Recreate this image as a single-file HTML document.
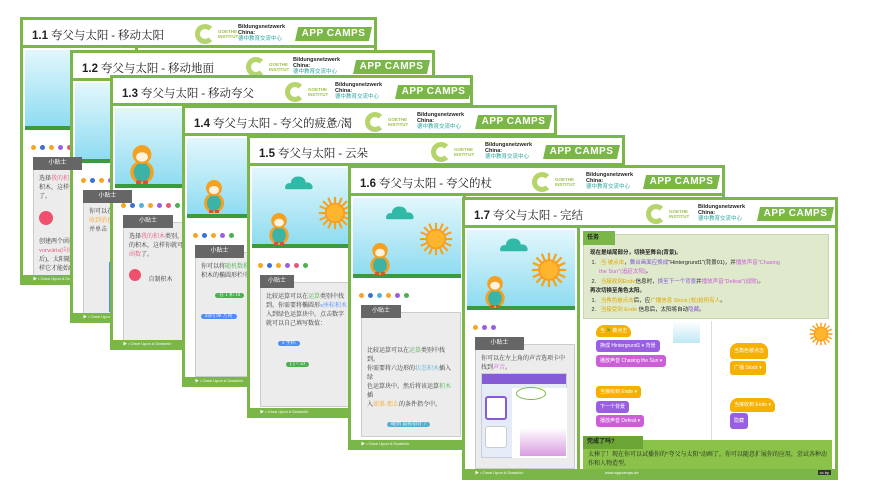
<!DOCTYPE html>
<html><head><meta charset="utf-8">
<style>
*{margin:0;padding:0;box-sizing:border-box}
body{width:872px;height:490px;background:#fff;position:relative;overflow:hidden;font-family:"Liberation Sans","Noto Sans CJK SC",sans-serif}
.s{position:absolute;background:#fff;border:3px solid #7ab648;overflow:hidden}
.h{position:absolute;left:0;top:0;right:0;height:28px;border-bottom:3px solid #7ab648;background:#fff}
.t{position:absolute;left:9px;top:7px;font-size:11.5px;color:#222;font-family:"Liberation Serif","Noto Serif CJK SC",serif;white-space:nowrap}
.t b{font-family:"Liberation Sans",sans-serif}
.gc{position:absolute;top:4px;width:20px;height:20px;border-radius:50%;border:5px solid #b5d56a;border-right-color:transparent}
.gt{position:absolute;top:9px;font-size:4.5px;color:#9cc04a;line-height:5px;font-weight:bold}
.bn{position:absolute;top:4px;font-size:5.5px;line-height:6px;font-weight:bold;color:#222}
.bn i{font-style:normal;color:#2aa59a;font-weight:normal}
.ac{position:absolute;top:7px;width:77px;height:14px;background:#7ab648;color:#fff;font-size:10px;line-height:14px;text-align:center;font-weight:bold;letter-spacing:.5px;clip-path:polygon(4% 0,100% 0,96% 100%,0 100%)}
.lc{position:absolute;left:0;top:28px;width:115px;bottom:7px;border-right:3px solid #7ab648}
.sky{position:absolute;left:2px;top:2px;width:108px;height:80px;background:linear-gradient(#e2f7fc,#8fdcf1);border-bottom:4px solid #3c9a3e}
.dots{position:absolute;left:8px;top:89px;height:6px}
.dots span{display:inline-block;width:5px;height:5px;border-radius:50%;margin-right:4px}
.tl{position:absolute;left:10px;top:109px;width:49px;height:13px;background:#666;color:#fff;font-size:6px;line-height:13px;text-align:center;z-index:2}
.tb{position:absolute;left:10px;top:116px;width:100px;height:125px;background:#ececec;border:1px solid #ccc;padding:10px 5px;font-size:6px;line-height:9px;color:#333;font-family:"Liberation Serif","Noto Serif CJK SC",serif}
.ft{position:absolute;left:0;right:0;bottom:0;height:7px;background:#7ab648;color:#fff;font-size:4px;line-height:7px;padding-left:10px}
.blk{position:absolute;font-size:5px;color:#fff;line-height:12px;padding:0 4px;border-radius:3px;white-space:nowrap}
.y{background:#f5b000}.p{background:#9a5fe0}.m{background:#cc5fd8}
</style></head><body>
<svg width="0" height="0" style="position:absolute">
<defs>
<symbol id="sun" viewBox="0 0 40 40"><g stroke="#f7a31a" stroke-width="2.5"><line x1="20" y1="1" x2="20" y2="39"/><line x1="1" y1="20" x2="39" y2="20"/><line x1="6" y1="6" x2="34" y2="34"/><line x1="34" y1="6" x2="6" y2="34"/><line x1="12" y1="2" x2="28" y2="38"/><line x1="2" y1="12" x2="38" y2="28"/><line x1="28" y1="2" x2="12" y2="38"/><line x1="38" y1="12" x2="2" y2="28"/></g><circle cx="20" cy="20" r="12" fill="#fb9a1e"/><circle cx="20" cy="20" r="10" fill="#ffb52e"/></symbol>
<symbol id="cloud" viewBox="0 0 40 22"><path d="M4 20 Q0 20 2 15 Q4 11 9 12 Q10 3 19 3 Q28 3 29 11 Q36 10 38 16 Q39 20 35 20 Z" fill="#2fb9a6"/></symbol>
<symbol id="tig" viewBox="0 0 22 34"><ellipse cx="11" cy="24" rx="10" ry="10" fill="#f4a021"/><ellipse cx="11" cy="24" rx="7" ry="8" fill="#3bb3a6"/><circle cx="11" cy="9" r="8" fill="#f4a021"/><ellipse cx="11" cy="11" rx="5" ry="4" fill="#fff3e0"/><rect x="6" y="31" width="4" height="3" fill="#e04b3a"/><rect x="12" y="31" width="4" height="3" fill="#e04b3a"/></symbol>
</defs></svg>

<!-- 1.1 -->
<div class="s" style="left:20px;top:17px;width:357px;height:268px">
<div class="h"><div class="t"><b>1.1</b> 夸父与太阳 - 移动太阳</div>
<div class="gc" style="left:172px"></div><div class="gt" style="left:195px">GOETHE<br>INSTITUT</div>
<div class="bn" style="left:215px">Bildungsnetzwerk<br>China:<br><i>德中教育交流中心</i></div>
<div class="ac" style="left:272px">APP CAMPS</div></div>
<div class="lc"><div class="sky"></div>
<div class="dots"><span style="background:#f5a623"></span><span style="background:#3f6fd1"></span><span style="background:#f5a623"></span><span style="background:#9a5fe0"></span><span style="background:#e5587a"></span></div>
<div class="tl">小贴士</div><div class="tb">选择<span style="color:#e5587a">我的积木</span>类别，<br>积木，这样你就<br>了。<br><br><span style="display:inline-block;width:14px;height:14px;border-radius:50%;background:#f0506e"></span><br><br>创建两个函数<br><span style="color:#e5587a">vorwärts(向前)</span><br>后)，太阳随<br>样它才能始终</div></div>
<div class="ft">▶ • Once Upon A Scratch/•</div></div>

<!-- 1.2 -->
<div class="s" style="left:70px;top:50px;width:365px;height:273px">
<div class="h"><div class="t"><b>1.2</b> 夸父与太阳 - 移动地面</div>
<div class="gc" style="left:173px"></div><div class="gt" style="left:196px">GOETHE<br>INSTITUT</div>
<div class="bn" style="left:220px">Bildungsnetzwerk<br>China:<br><i>德中教育交流中心</i></div>
<div class="ac" style="left:280px">APP CAMPS</div></div>
<div class="lc"><div class="sky"></div>
<div class="dots"><span style="background:#f5a623"></span><span style="background:#3f6fd1"></span><span style="background:#f5a623"></span><span style="background:#9a5fe0"></span></div>
<div class="tl">小贴士</div><div class="tb">你可以在<br><span style="color:#f5a623">收到消息</span><br>并单击<br><br><br><br><div style="width:30px;height:50px;background:#4c8df6;margin-left:20px"></div></div></div>
<div class="ft">▶ • Once Upon A Scratch/•</div></div>

<!-- 1.3 -->
<div class="s" style="left:110px;top:75px;width:363px;height:275px">
<div class="h"><div class="t"><b>1.3</b> 夸父与太阳 - 移动夸父</div>
<div class="gc" style="left:172px"></div><div class="gt" style="left:195px">GOETHE<br>INSTITUT</div>
<div class="bn" style="left:222px">Bildungsnetzwerk<br>China:<br><i>德中教育交流中心</i></div>
<div class="ac" style="left:282px">APP CAMPS</div></div>
<div class="lc"><div class="sky"><svg style="position:absolute;left:14px;top:36px" width="26" height="40"><use href="#tig"/></svg></div>
<div class="dots"><span style="background:#f5a623"></span><span style="background:#3f6fd1"></span><span style="background:#55b0d8"></span><span style="background:#f5a623"></span><span style="background:#9a5fe0"></span><span style="background:#e5587a"></span><span style="background:#4caf50"></span></div>
<div class="tl" style="width:50px">小贴士</div><div class="tb">选择<span style="color:#e5587a">我的积木</span>类别，<br>的积木，这样你就可<br><span style="color:#e5587a">函数</span>了。<br><br><span style="display:inline-block;width:12px;height:12px;border-radius:50%;background:#f0506e"></span> &nbsp;&nbsp;&nbsp;&nbsp;自制积木</div></div>
<div class="ft">▶ • Once Upon A Scratch/•</div></div>

<!-- 1.4 -->
<div class="s" style="left:182px;top:105px;width:375px;height:282px">
<div class="h"><div class="t"><b>1.4</b> 夸父与太阳 - 夸父的疲惫/渴</div>
<div class="gc" style="left:180px"></div><div class="gt" style="left:203px">GOETHE<br>INSTITUT</div>
<div class="bn" style="left:232px">Bildungsnetzwerk<br>China:<br><i>德中教育交流中心</i></div>
<div class="ac" style="left:290px">APP CAMPS</div></div>
<div class="lc"><div class="sky"><svg style="position:absolute;left:16px;top:40px" width="22" height="36"><use href="#tig"/></svg></div>
<div class="dots"><span style="background:#f5a623"></span><span style="background:#3f6fd1"></span><span style="background:#f5a623"></span><span style="background:#9a5fe0"></span><span style="background:#4caf50"></span></div>
<div class="tl">小贴士</div><div class="tb">你可以将<span style="color:#4caf50">随机数积木</span><br>积木的椭圆形栏中<br><br><span class="blk" style="position:relative;background:#4caf50;border-radius:6px;margin-left:14px">在 1 和 10</span><br><br><span class="blk" style="position:relative;background:#4c8df6">面向 90 方向</span></div></div>
<div class="ft">▶ • Once Upon A Scratch/•</div></div>

<!-- 1.5 -->
<div class="s" style="left:247px;top:135px;width:378px;height:283px">
<div class="h"><div class="t"><b>1.5</b> 夸父与太阳 - 云朵</div>
<div class="gc" style="left:181px"></div><div class="gt" style="left:204px">GOETHE<br>INSTITUT</div>
<div class="bn" style="left:235px">Bildungsnetzwerk<br>China:<br><i>德中教育交流中心</i></div>
<div class="ac" style="left:293px">APP CAMPS</div></div>
<div class="lc"><div class="sky"><svg style="position:absolute;left:32px;top:6px" width="30" height="17"><use href="#cloud"/></svg><svg style="position:absolute;left:66px;top:28px" width="34" height="34"><use href="#sun"/></svg><svg style="position:absolute;left:16px;top:44px" width="22" height="33"><use href="#tig"/></svg></div>
<div class="dots"><span style="background:#f5a623"></span><span style="background:#3f6fd1"></span><span style="background:#f5a623"></span><span style="background:#9a5fe0"></span><span style="background:#e5587a"></span><span style="background:#4caf50"></span></div>
<div class="tl" style="width:34px">小贴士</div><div class="tb">比较运算可以在<span style="color:#4caf50">运算</span>类别中找<br>到。你需要将椭圆形<span style="color:#4c8df6">x座标积木</span><br>入到绿色运算块中。点击数字<br>就可以自己填写数值：<br><br><span class="blk" style="position:relative;background:#4c8df6;border-radius:6px;margin-left:12px">x 坐标</span><br><br><span class="blk" style="position:relative;background:#4caf50;margin-left:20px">( ) &lt; 50</span></div></div>
<div class="ft">▶ • Once Upon A Scratch/•</div></div>

<!-- 1.6 -->
<div class="s" style="left:348px;top:165px;width:377px;height:285px">
<div class="h"><div class="t"><b>1.6</b> 夸父与太阳 - 夸父的杖</div>
<div class="gc" style="left:181px"></div><div class="gt" style="left:204px">GOETHE<br>INSTITUT</div>
<div class="bn" style="left:235px">Bildungsnetzwerk<br>China:<br><i>德中教育交流中心</i></div>
<div class="ac" style="left:292px">APP CAMPS</div></div>
<div class="lc"><div class="sky"><svg style="position:absolute;left:32px;top:6px" width="30" height="17"><use href="#cloud"/></svg><svg style="position:absolute;left:66px;top:24px" width="34" height="34"><use href="#sun"/></svg><svg style="position:absolute;left:16px;top:44px" width="22" height="33"><use href="#tig"/></svg></div>
<div class="dots"><span style="background:#f5a623"></span><span style="background:#3f6fd1"></span><span style="background:#55b0d8"></span><span style="background:#f5a623"></span><span style="background:#9a5fe0"></span><span style="background:#4caf50"></span></div>
<div class="tl" style="width:40px">小贴士</div><div class="tb" style="padding-top:34px">比较运算可以在<span style="color:#4caf50">运算</span>类别中找到。<br>你需要将六边形的<span style="color:#55b0d8">状态积木</span>插入绿<br>色运算块中。然后将该运算<span style="color:#4caf50">积木</span>插<br>入<span style="color:#f5a623">如果-那么</span>的条件指令中。<br><br><span class="blk" style="position:relative;background:#55b0d8;margin-left:20px">碰到 鼠标指针 ?</span></div></div>
<div class="ft">▶ • Once Upon A Scratch/•</div></div>

<!-- 1.7 -->
<div class="s" style="left:462px;top:197px;width:376px;height:283px">
<div class="h"><div class="t"><b>1.7</b> 夸父与太阳 - 完结</div>
<div class="gc" style="left:181px"></div><div class="gt" style="left:204px">GOETHE<br>INSTITUT</div>
<div class="bn" style="left:233px">Bildungsnetzwerk<br>China:<br><i>德中教育交流中心</i></div>
<div class="ac" style="left:292px">APP CAMPS</div></div>
<div class="lc"><div class="sky"><svg style="position:absolute;left:32px;top:6px" width="30" height="17"><use href="#cloud"/></svg><svg style="position:absolute;left:64px;top:22px" width="36" height="36"><use href="#sun"/></svg><svg style="position:absolute;left:17px;top:45px" width="22" height="33"><use href="#tig"/></svg></div>
<div class="dots"><span style="background:#f5a623"></span><span style="background:#9a5fe0"></span><span style="background:#9a5fe0"></span></div>
<div class="tl">小贴士</div><div class="tb">你可以在左上角的声音选项卡中<br>找到<span style="color:#cc5fd8">声音</span>。
<div style="position:absolute;left:5px;top:28px;width:86px;height:85px;background:#e6ecf7;border:1px solid #ccd">
<div style="height:10px;background:#855cd6"></div>
<div style="position:absolute;left:3px;top:22px;width:22px;height:24px;background:#fff;border:2px solid #855cd6;border-radius:3px"></div>
<div style="position:absolute;left:3px;top:52px;width:22px;height:22px;background:#fff;border:1px solid #ccc;border-radius:3px"></div>
<div style="position:absolute;left:30px;top:14px;width:55px;height:70px;background:#fff"></div>
<div style="position:absolute;left:38px;top:54px;width:46px;height:28px;background:linear-gradient(#fff0,#d99de0)"></div>
<div style="position:absolute;left:34px;top:13px;width:30px;height:13px;border:1.5px solid #7ab648;border-radius:50%"></div>
</div></div></div>
<!-- right -->
<div style="position:absolute;left:118px;top:34px;width:246px;height:85px;background:#dfe9cc;border:1px solid #c8d6b0"></div>
<div style="position:absolute;left:118px;top:31px;width:32px;height:14px;background:#7ab648;color:#222;font-size:6px;font-weight:bold;line-height:14px;padding-left:4px">任务</div>
<div style="position:absolute;left:125px;top:49px;width:238px;font-size:5.5px;line-height:9.5px;color:#222">
<b>现在是结尾部分，切换至舞台(背景)。</b><br>
&nbsp;1.&nbsp;&nbsp;&nbsp;<span style="color:#e0a800">当 被点击</span>，<span style="color:#855cd6">舞台画面应换成</span>"Hintergrund1"(背景01)，并<span style="color:#cc5fd8">播放声音"Chasing</span><br>
&nbsp;&nbsp;&nbsp;&nbsp;&nbsp;&nbsp;<span style="color:#cc5fd8">the Sun"(追赶太阳)</span>。<br>
&nbsp;2.&nbsp;&nbsp;&nbsp;<span style="color:#e0a800">当接收到Ende</span>信息时，<span style="color:#855cd6">换至下一个背景</span>并<span style="color:#cc5fd8">播放声音"Defeat"(战败)</span>。<br>
<b>再次切换至角色太阳。</b><br>
&nbsp;1.&nbsp;&nbsp;&nbsp;<span style="color:#e0a800">当角色被点击</span>后，应<span style="color:#e0a800">广播信息 Stock (杖)给所有人</span>。<br>
&nbsp;2.&nbsp;&nbsp;&nbsp;<span style="color:#e0a800">当接受到 Ende</span> 信息后，太阳将自动<span style="color:#855cd6">隐藏</span>。</div>
<div style="position:absolute;left:246px;top:121px;width:1px;height:122px;background:#ddd"></div>
<div style="position:absolute;left:208px;top:121px;width:27px;height:22px;background:linear-gradient(#fff,#bfe9f5)"></div>
<svg style="position:absolute;left:344px;top:122px" width="24" height="24"><use href="#sun"/></svg>
<div class="blk y" style="left:131px;top:125px;border-radius:8px 8px 3px 3px">当 <span style="color:#4caf50">⚑</span> 被点击</div>
<div class="blk p" style="left:131px;top:140px">换成 Hintergrund1 ▾ 背景</div>
<div class="blk m" style="left:131px;top:155px">播放声音 Chasing the Sun ▾</div>
<div class="blk y" style="left:131px;top:186px">当接收到 Ende ▾</div>
<div class="blk p" style="left:131px;top:201px">下一个背景</div>
<div class="blk m" style="left:131px;top:215px">播放声音 Defeat ▾</div>
<div class="blk y" style="left:265px;top:143px;border-radius:8px 8px 3px 3px;line-height:16px">当角色被点击</div>
<div class="blk y" style="left:265px;top:161px;line-height:14px">广播 Stock ▾</div>
<div class="blk y" style="left:265px;top:198px;line-height:14px;border-radius:8px 8px 3px 3px">当接收到 Ende ▾</div>
<div class="blk p" style="left:265px;top:213px;line-height:16px">隐藏</div>
<div style="position:absolute;left:118px;top:240px;width:249px;height:31px;background:#8bc34a"></div>
<div style="position:absolute;left:118px;top:236px;width:60px;height:13px;background:#6aa536;color:#222;font-size:6px;font-weight:bold;line-height:13px;padding-left:4px">完成了吗?</div>
<div style="position:absolute;left:123px;top:251px;width:240px;font-size:6px;line-height:9px;color:#222;font-family:'Liberation Serif','Noto Serif CJK SC',serif">太棒了！现在你可以试播你的"夸父与太阳"动画了。你可以随意扩展你的应用，尝试各种动作和人物造型。</div>
<div class="ft" style="height:8px;text-align:left">▶ • Once Upon A Scratch/• <span style="position:absolute;left:140px">www.appcamps.de</span><span style="position:absolute;right:4px;background:#333;padding:0 2px;line-height:5px;top:1px">cc by</span></div>
</div>
</body></html>
